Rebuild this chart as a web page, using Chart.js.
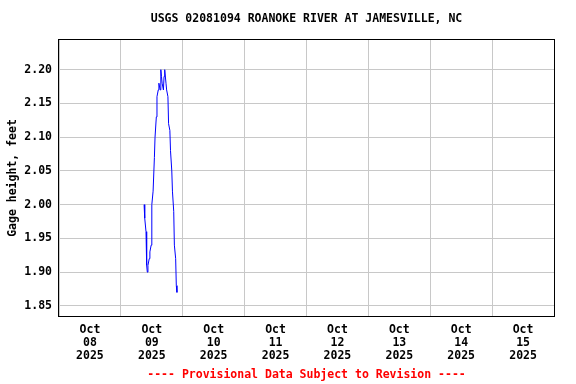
<!DOCTYPE html>
<html>
<head>
<meta charset="utf-8">
<script src="https://cdn.jsdelivr.net/npm/chart.js@4"></script>
<style>
  html, body { margin: 0; padding: 0; background: #fff; }
  #wrap { width: 576px; height: 384px; }
</style>
</head>
<body>
<div id="wrap"><canvas id="gageChart" width="576" height="384"></canvas></div>
<script>
  // hours since Oct 08 2025 00:00
  const hours = [33.0, 33.25, 33.75, 34.0, 34.25, 34.5, 35.0, 35.25, 35.75, 36.0,
    36.5, 37.0, 37.25, 37.75, 38.0, 38.5, 38.75, 39.25, 39.5, 39.75,
    40.0, 40.5, 40.75, 41.0, 41.5, 41.75, 42.25, 42.5, 43.0, 43.25,
    43.75, 44.0, 44.5, 44.75, 45.25, 45.5, 45.75];
  const gageHeight = [2.00, 1.98, 1.96, 1.91, 1.90, 1.91, 1.92, 1.93, 1.94, 2.00,
    2.02, 2.07, 2.10, 2.13, 2.16, 2.17, 2.18, 2.17, 2.20, 2.19,
    2.18, 2.17, 2.19, 2.20, 2.18, 2.17, 2.16, 2.12, 2.11, 2.08,
    2.05, 2.02, 1.99, 1.94, 1.92, 1.88, 1.87];

  const dayLabels = [
    ['Oct', '08', '2025'], ['Oct', '09', '2025'], ['Oct', '10', '2025'], ['Oct', '11', '2025'],
    ['Oct', '12', '2025'], ['Oct', '13', '2025'], ['Oct', '14', '2025'], ['Oct', '15', '2025']
  ];
  const yTicks = [1.85, 1.90, 1.95, 2.00, 2.05, 2.10, 2.15, 2.20];

  const font = { family: '"DejaVu Sans Mono", monospace', size: 11.5, weight: 'bold' };
  const gridColor = '#c8c8c8';

  const points = hours.map((h, i) => ({ x: h, y: gageHeight[i] }));

  new Chart(document.getElementById('gageChart').getContext('2d'), {
    type: 'line',
    data: {
      datasets: [{
        data: points,
        borderColor: '#0000ff',
        borderWidth: 1,
        pointRadius: 0,
        fill: false,
        tension: 0
      }]
    },
    options: {
      responsive: false,
      animation: false,
      layout: { padding: { left: 0, right: 22, top: 0, bottom: 0 } },
      plugins: {
        legend: { display: false },
        tooltip: { enabled: false },
        title: {
          display: true,
          text: 'USGS 02081094 ROANOKE RIVER AT JAMESVILLE, NC',
          color: '#000',
          font: font,
          fullSize: false,
          padding: { top: 12, bottom: 14.2 }
        },
        subtitle: {
          display: true,
          position: 'bottom',
          text: '---- Provisional Data Subject to Revision ----',
          color: '#ff0000',
          font: font,
          fullSize: false,
          padding: { top: 4, bottom: 2 }
        }
      },
      scales: {
        x: {
          type: 'linear',
          min: 0,
          max: 192,
          afterBuildTicks: scale => {
            const t = [];
            for (let i = 0; i <= 16; i++) t.push({ value: i * 12 });
            scale.ticks = t;
          },
          afterFit: scale => { scale.height = 48.2; },
          grid: {
            drawTicks: false,
            color: ctx => (ctx.tick && ctx.tick.value % 24 === 0 ? gridColor : 'rgba(0,0,0,0)'),
            lineWidth: 1
          },
          border: { display: false },
          ticks: {
            autoSkip: false,
            maxRotation: 0,
            padding: 8,
            color: '#000',
            font: { ...font, lineHeight: 1.13 },
            callback: v => (v % 24 === 12 ? dayLabels[(v - 12) / 24] : '')
          }
        },
        y: {
          min: 1.835,
          max: 2.244,
          afterBuildTicks: scale => { scale.ticks = yTicks.map(v => ({ value: v })); },
          afterFit: scale => { scale.width = 59; },
          grid: { drawTicks: false, color: gridColor, lineWidth: 1 },
          border: { display: false },
          ticks: {
            padding: 7,
            color: '#000',
            font: font,
            callback: v => v.toFixed(2)
          },
          title: {
            display: true,
            text: 'Gage height, feet',
            color: '#000',
            font: font,
            padding: { top: 6, bottom: 0 }
          }
        }
      }
    },
    plugins: [{
      id: 'frame',
      afterDraw: chart => {
        const a = chart.chartArea, c = chart.ctx;
        c.save();
        c.strokeStyle = '#000';
        c.lineWidth = 1;
        c.strokeRect(Math.round(a.left) - 0.5, Math.round(a.top) - 0.5,
          Math.round(a.right - a.left) + 1, Math.round(a.bottom - a.top) + 1);
        c.restore();
      }
    }]
  });
</script>
</body>
</html>
